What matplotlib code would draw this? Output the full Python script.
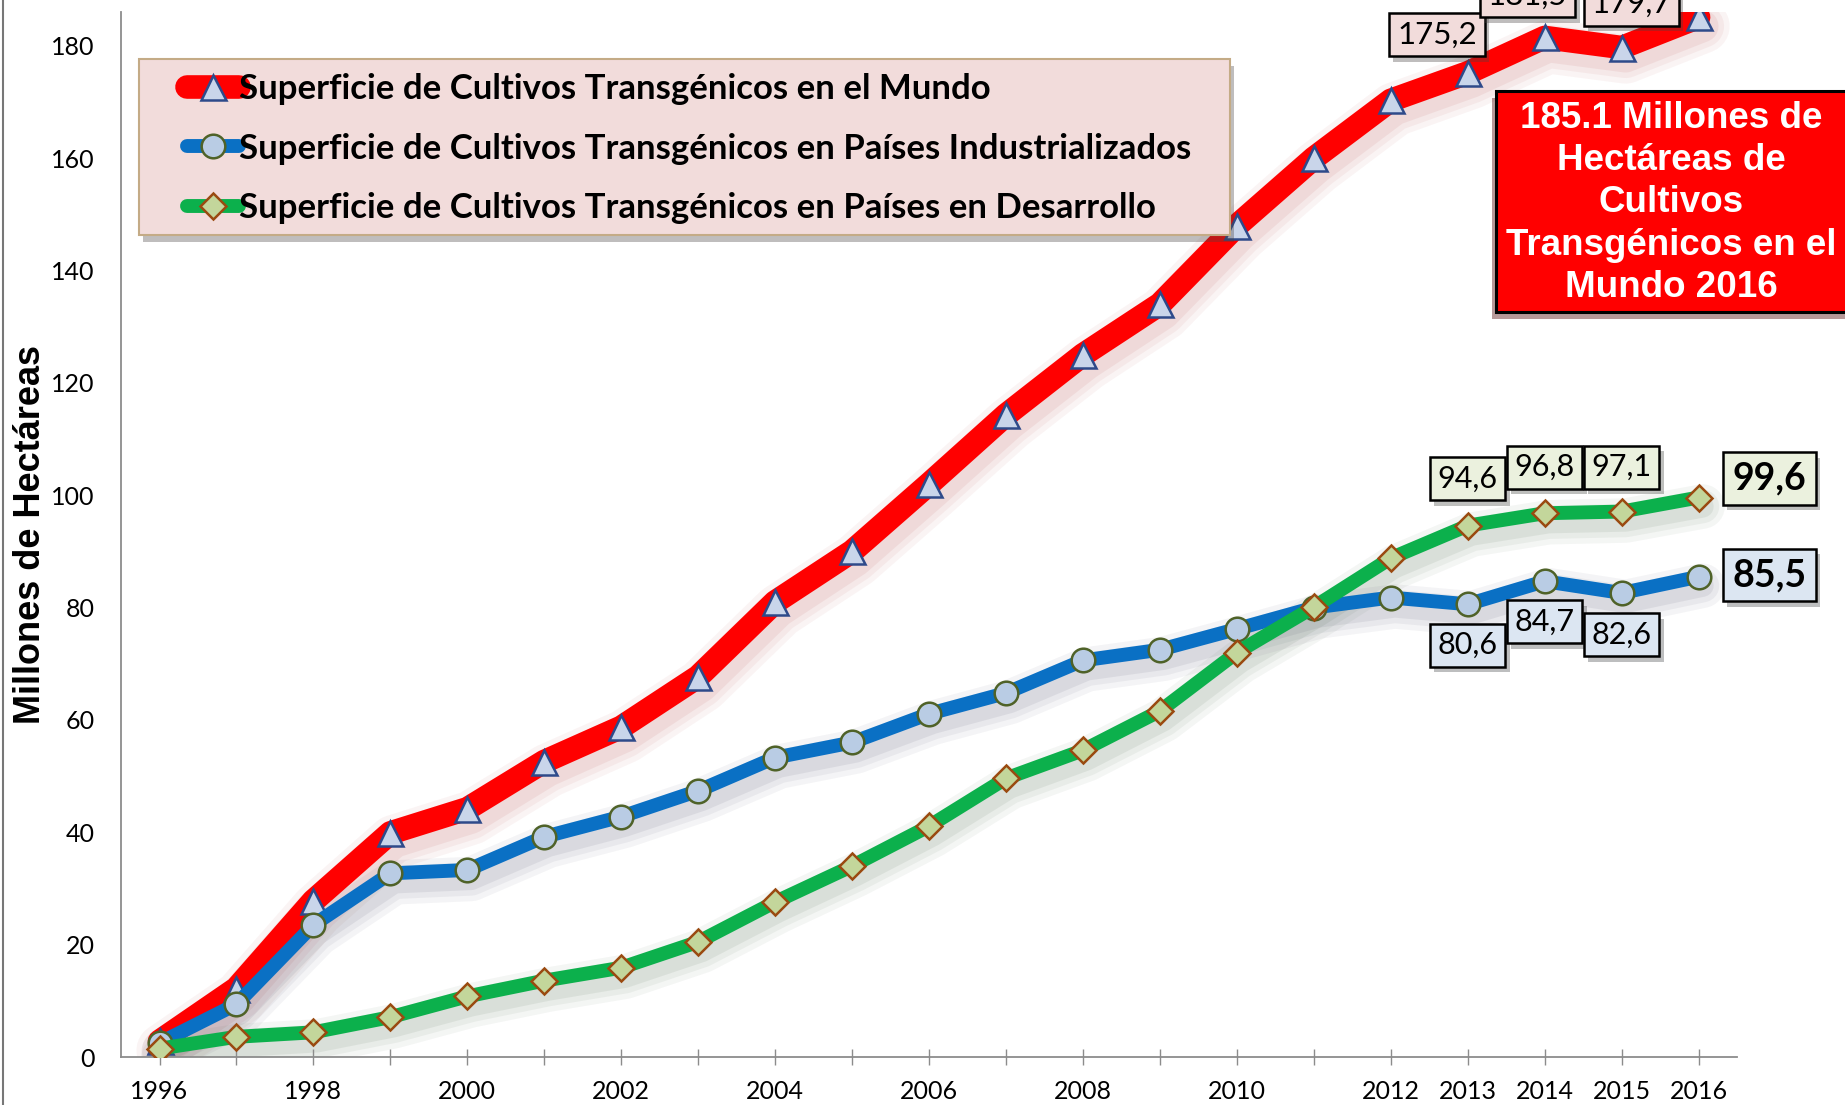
import matplotlib.pyplot as plt
import matplotlib.patheffects as pe
from matplotlib.patches import Rectangle
from matplotlib.lines import Line2D
from matplotlib.transforms import offset_copy

# Datos (millones de hectáreas)
years = list(range(1996, 2017))
tick_labels = ['1996', '', '1998', '', '2000', '', '2002', '', '2004', '', '2006', '',
               '2008', '', '2010', '', '2012', '2013', '2014', '2015', '2016']

mundo = [2.8, 12.2, 27.8, 39.9, 44.2, 52.6, 58.7, 67.7, 81.0, 90.0, 102.0,
         114.3, 125.0, 134.0, 148.0, 160.0, 170.3, 175.2, 181.5, 179.7, 185.1]
industrializados = [2.5, 9.4, 23.5, 32.7, 33.3, 39.2, 42.8, 47.4, 53.3, 56.0, 61.1,
                    64.8, 70.6, 72.5, 76.2, 80.0, 81.8, 80.6, 84.7, 82.6, 85.5]
desarrollo = [1.5, 3.6, 4.4, 7.1, 10.8, 13.6, 15.9, 20.5, 27.6, 34.0, 41.1,
              49.6, 54.6, 61.6, 72.0, 80.1, 88.8, 94.6, 96.8, 97.1, 99.6]

nombres = ['Superficie de Cultivos Transgénicos en el Mundo',
           'Superficie de Cultivos Transgénicos en Países Industrializados',
           'Superficie de Cultivos Transgénicos en Países en Desarrollo']

x = list(range(len(years)))

fig = plt.figure(figsize=(18.45, 11.05), dpi=100)
ax = fig.add_axes([0.0656, 0.0434, 0.8759, 0.9456])

# sombra difusa bajo cada línea
def sombra(y, color, w, z):
    tr = offset_copy(ax.transData, fig=fig, x=4, y=-9, units='dots')
    for extra, a in [(22, 0.05), (14, 0.06), (6, 0.08)]:
        ax.plot(x, y, color=color, lw=w + extra, alpha=a, transform=tr, zorder=z,
                solid_joinstyle='round', solid_capstyle='round')

sombra(mundo, '#b03030', 17, 1.1)
sombra(industrializados, '#303050', 10, 1.2)
sombra(desarrollo, '#305030', 10, 1.3)

ax.plot(x, mundo, color='#ff0000', lw=17, marker='^', ms=18, mfc='#c9d5ea',
        mec='#2e4a8a', mew=1.8, label=nombres[0], zorder=2,
        solid_joinstyle='round', solid_capstyle='round')
ax.plot(x, industrializados, color='#0a70c4', lw=10, marker='o', ms=17, mfc='#b9cce4',
        mec='#4f6228', mew=1.8, label=nombres[1], zorder=3,
        solid_joinstyle='round', solid_capstyle='round')
ax.plot(x, desarrollo, color='#0cb04c', lw=10, marker='D', ms=13, mfc='#c3d69b',
        mec='#9a4a10', mew=1.8, label=nombres[2], zorder=4,
        solid_joinstyle='round', solid_capstyle='round')

ax.set_xlim(-0.5, 20.5)
ax.set_ylim(0, 186)
ax.set_yticks(range(0, 181, 20))
ax.set_xticks(x)
ax.set_xticklabels(tick_labels)
for s in ['top', 'right']:
    ax.spines[s].set_visible(False)
for s in ['left', 'bottom']:
    ax.spines[s].set_color('#8c8c8c')
    ax.spines[s].set_linewidth(1.3)
ax.tick_params(axis='y', length=0, pad=19, labelsize=18)
ax.tick_params(axis='x', direction='inout', length=11, width=1, color='#8c8c8c',
               pad=11, labelsize=18)
for lab in ax.get_xticklabels() + ax.get_yticklabels():
    lab.set_family('Lato')

ax.set_ylabel('Millones de Hectáreas', family='Liberation Sans', fontweight='bold', fontsize=26)
ax.yaxis.set_label_coords(-0.0455, 0.5)

# marco de la leyenda
marco = Rectangle((0.0111, 0.7866), 0.6752, 0.1684, transform=ax.transAxes,
                  fc='#f2dcdb', ec='#c4ab86', lw=1.5, zorder=5)
marco.set_path_effects([pe.SimplePatchShadow(offset=(3, -5), alpha=0.35), pe.Normal()])
ax.add_patch(marco)

leg = ax.legend(loc='center left', bbox_to_anchor=(0.0408, 0.8695), borderaxespad=0,
                prop={'family': 'Lato', 'weight': 'bold', 'size': 25},
                handlelength=1.5, handletextpad=0.0, labelspacing=0.785,
                borderpad=0, frameon=False)
leg.set_zorder(6)
for h in leg.legend_handles:
    h.set_solid_capstyle('round')

# etiquetas de valores: (serie, índice, x de la caja, y de la caja, tamaño, peso, fondo)
etiquetas = [
    (mundo, 17, 16.6, 182.0, 22.5, 'normal', '#f2dcdb'),
    (mundo, 18, 17.78, 189.0, 22.5, 'normal', '#f2dcdb'),
    (mundo, 19, 19.13, 187.5, 22.5, 'normal', '#f2dcdb'),
    (desarrollo, 17, 17.0, 103.0, 22, 'normal', '#ebf1de'),
    (desarrollo, 18, 18.0, 105.0, 22, 'normal', '#ebf1de'),
    (desarrollo, 19, 19.0, 105.0, 22, 'normal', '#ebf1de'),
    (desarrollo, 20, 20.92, 103.0, 27, 'bold', '#ebf1de'),
    (industrializados, 17, 17.0, 73.3, 22, 'normal', '#dce6f2'),
    (industrializados, 18, 18.0, 77.5, 22, 'normal', '#dce6f2'),
    (industrializados, 19, 19.0, 75.2, 22, 'normal', '#dce6f2'),
    (industrializados, 20, 20.92, 85.8, 27, 'bold', '#dce6f2'),
]
for serie, i, tx, ty, fs, fw, fc in etiquetas:
    t = ax.text(tx, ty, f'{serie[i]:.1f}'.replace('.', ','), ha='center', va='center',
                fontsize=fs, fontweight=fw, family='Lato', zorder=7,
                bbox=dict(boxstyle='square,pad=0.25', fc=fc, ec='black', lw=1.8))
    t.get_bbox_patch().set_path_effects([pe.SimplePatchShadow(offset=(3, -4), alpha=0.35),
                                         pe.Normal()])

# cuadro rojo
caja = Rectangle((0.8108, 0.7177), 0.2, 0.1999, transform=fig.transFigure,
                 fc='#ff0000', ec='black', lw=2.2, zorder=5)
caja.set_path_effects([pe.SimplePatchShadow(offset=(-3, -5), alpha=0.4), pe.Normal()])
fig.patches.append(caja)
fig.text(0.9057, 0.8165, f'{mundo[-1]} Millones de\nHectáreas de\nCultivos\nTransgénicos en el\nMundo {years[-1]}',
         ha='center', va='center', color='white', fontsize=26.5, fontweight='bold',
         family='Liberation Sans', linespacing=1.27, zorder=6)

fig.add_artist(Line2D([0.0015, 0.0015], [0, 1], transform=fig.transFigure, color='#777777', lw=1.5))

fig.savefig('out.png', dpi=100)
